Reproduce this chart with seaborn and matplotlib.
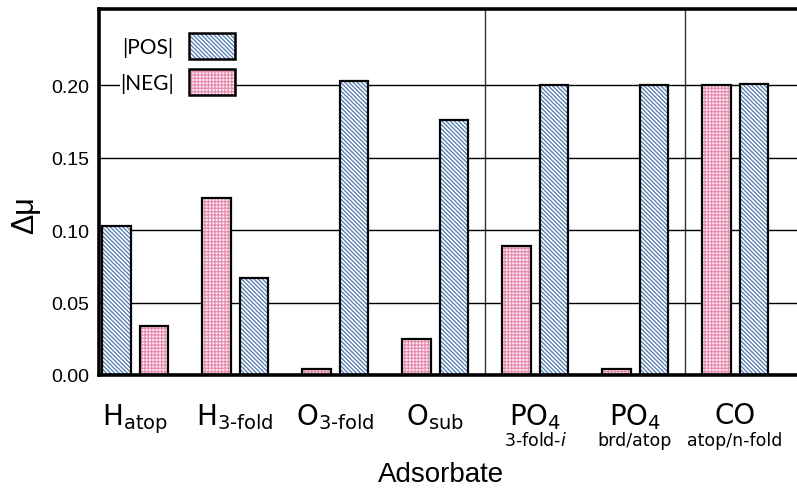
import pandas as pd
import matplotlib
matplotlib.use("Agg")
import matplotlib.pyplot as plt
import seaborn as sns
from matplotlib.patches import Rectangle, Patch
from matplotlib.legend_handler import HandlerTuple

# adsorbates (tick label, small second line)
categories = ["H_atop", "H_3fold", "O_3fold", "O_sub", "PO4_3fold", "PO4_brd", "CO"]
tick_labels = ["H$_{\\mathrm{atop}}$", "H$_{\\text{3-fold}}$", "O$_{\\text{3-fold}}$",
               "O$_{\\mathrm{sub}}$", "PO$_4$", "PO$_4$", "CO"]
sub_labels = ["", "", "", "", "3-fold-$i$", "brd/atop", "atop/n-fold"]

# |POS| and |NEG| values
pos_vals = [0.103, 0.067, 0.203, 0.176, 0.200, 0.200, 0.201]
neg_vals = [0.034, 0.122, 0.004, 0.025, 0.089, 0.004, 0.200]
# which series sits on the left inside each pair
left_series = ["POS", "NEG", "NEG", "NEG", "NEG", "NEG", "NEG"]

rows = []
for i, cat in enumerate(categories):
    vals = {"POS": pos_vals[i], "NEG": neg_vals[i]}
    right = "NEG" if left_series[i] == "POS" else "POS"
    rows.append({"cat": cat, "slot": "L", "series": left_series[i], "value": vals[left_series[i]]})
    rows.append({"cat": cat, "slot": "R", "series": right, "value": vals[right]})
df = pd.DataFrame(rows)

sns.set_style("white")
plt.rcParams["hatch.linewidth"] = 0.9
plt.rcParams["text.color"] = "black"
plt.rcParams["axes.labelcolor"] = "black"
plt.rcParams["xtick.color"] = "black"
plt.rcParams["ytick.color"] = "black"

style = {
    "POS": dict(hatch="\\" * 8, hcolor="#4f78b2", face="white"),
    "NEG": dict(hatch="+" * 5, hcolor="#e88db2", face="#fdf0f5"),
}

fig = plt.figure(figsize=(7.97, 4.89), dpi=100)
ax = fig.add_axes([99 / 797, (489 - 376) / 489, 698 / 797, (376 - 10) / 489])

sns.barplot(data=df, x="cat", y="value", hue="slot", hue_order=["L", "R"],
            order=categories, width=0.75, gap=0.24, errorbar=None,
            legend=False, ax=ax)

for p in list(ax.patches):
    cx = p.get_x() + p.get_width() / 2
    idx = int(round(cx))
    ser = left_series[idx] if cx < idx else ("NEG" if left_series[idx] == "POS" else "POS")
    st = style[ser]
    p.set_facecolor(st["face"])
    p.set_edgecolor(st["hcolor"])
    p.set_hatch(st["hatch"])
    p.set_linewidth(0)
    p.set_zorder(2)
    ax.add_patch(Rectangle(p.get_xy(), p.get_width(), p.get_height(), fill=False,
                           edgecolor="black", linewidth=1.6, zorder=3))

ax.set_xlim(-0.36, 6.62)
ax.set_ylim(0, 0.2525)
ax.set_yticks([0.0, 0.05, 0.10, 0.15, 0.20])
ax.set_yticklabels(["0.00", "0.05", "0.10", "0.15", "0.20"],
                   fontsize=14, family="Liberation Sans", color="black")
ax.yaxis.grid(True, color="black", linewidth=1.0)
ax.set_axisbelow(True)
for xv in [3.5, 5.5]:
    ax.axvline(xv, color="#333333", linewidth=1.0, zorder=0.5)

ax.set_xticks(range(len(categories)))
ax.set_xticklabels(tick_labels, fontsize=20, family="DejaVu Sans", color="black")
ax.tick_params(axis="x", length=0, pad=19)
ax.tick_params(axis="y", length=0, pad=7)
for i, s in enumerate(sub_labels):
    if s:
        ax.annotate(s, xy=(i, -0.178), xycoords=("data", "axes fraction"),
                    ha="center", va="center", fontsize=12.5, family="DejaVu Sans",
                    color="black")

ax.set_xlabel("Adsorbate", fontsize=20, family="Liberation Sans", color="black")
ax.xaxis.set_label_coords(0.49, -0.235)
ax.set_ylabel("Δμ", fontsize=22, family="Liberation Sans", color="black")
ax.yaxis.set_label_coords(-0.085, 0.44)

for side in ["top", "left", "bottom"]:
    ax.spines[side].set_visible(True)
    ax.spines[side].set_color("black")
    ax.spines[side].set_linewidth(2.6)
ax.spines["right"].set_visible(False)

handles = []
for ser in ["POS", "NEG"]:
    st = style[ser]
    h = Patch(facecolor=st["face"], edgecolor=st["hcolor"], hatch=st["hatch"], linewidth=0)
    o = Patch(fill=False, edgecolor="black", linewidth=1.8)
    handles.append((h, o))
leg = ax.legend(handles, ["|POS|", "|NEG|"], handler_map={tuple: HandlerTuple(ndivide=1)},
                loc="upper left", bbox_to_anchor=(0.03, 0.935), borderaxespad=0,
                borderpad=0, markerfirst=False, handlelength=2.2, handleheight=1.58,
                labelspacing=0.45, handletextpad=0.75, frameon=True, fancybox=False,
                framealpha=1, facecolor="white", edgecolor="none",
                prop={"family": "Lato", "size": 15})
for t in leg.get_texts():
    t.set_color("black")

fig.savefig("out.png", dpi=100)
